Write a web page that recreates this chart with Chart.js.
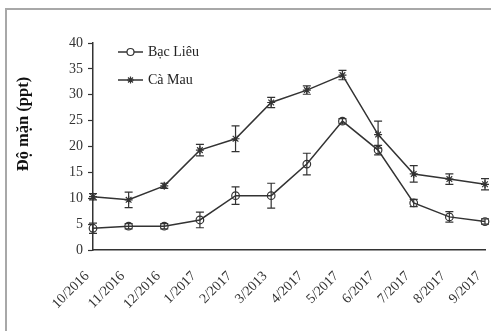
<!DOCTYPE html>
<html>
<head>
<meta charset="utf-8">
<script src="https://cdn.jsdelivr.net/npm/chart.js@4.4.0/dist/chart.umd.min.js"></script>
<style>
html,body{margin:0;padding:0;background:#fff;}
#wrap{position:relative;width:491px;height:331px;}
</style>
</head>
<body>
<div id="wrap"><canvas id="c" width="491" height="331"></canvas></div>
<script>
const categories = ['10/2016','11/2016','12/2016','1/2017','2/2017','3/2013','4/2017','5/2017','6/2017','7/2017','8/2017','9/2017'];
const bacLieu    = [4.2, 4.6, 4.6, 5.8, 10.5, 10.5, 16.6, 24.9, 19.3, 9.1, 6.4, 5.5];
const bacLieuErr = [1.0, 0.5, 0.5, 1.5, 1.7, 2.4, 2.1, 0.5, 0.9, 0.7, 1.0, 0.5];
const caMau      = [10.3, 9.7, 12.4, 19.3, 21.5, 28.5, 30.9, 33.8, 22.3, 14.7, 13.7, 12.7];
const caMauErr   = [0.6, 1.5, 0.5, 1.1, 2.5, 1.0, 0.8, 0.9, 2.6, 1.6, 1.0, 1.1];
const yTicks     = [0, 5, 10, 15, 20, 25, 30, 35, 40];
const seriesNames = ['Bạc Liêu', 'Cà Mau'];
const errs = [bacLieuErr, caMauErr];

const INK = '#333';
const FONT = '"Liberation Serif", "Times New Roman", serif';

const framePlugin = {
  id: 'frame',
  beforeDraw(chart) {
    const ctx = chart.ctx;
    ctx.save();
    ctx.fillStyle = '#fff';
    ctx.fillRect(0, 0, chart.width, chart.height);
    ctx.strokeStyle = '#a8a8a8';
    ctx.lineWidth = 2;
    ctx.beginPath();
    ctx.moveTo(6, 340);
    ctx.lineTo(6, 9);
    ctx.lineTo(500, 9);
    ctx.stroke();
    // y-axis title
    ctx.translate(24, 124);
    ctx.rotate(-Math.PI / 2);
    ctx.fillStyle = '#111';
    ctx.font = 'bold 16.5px ' + FONT;
    ctx.textAlign = 'center';
    ctx.textBaseline = 'middle';
    ctx.fillText('Độ mặn (ppt)', 0, 0);
    ctx.restore();
  }
};

const errorBarPlugin = {
  id: 'errbars',
  afterDatasetsDraw(chart) {
    const ctx = chart.ctx;
    const y = chart.scales.y;
    ctx.save();
    ctx.strokeStyle = INK;
    ctx.lineWidth = 1.2;
    chart.data.datasets.forEach((ds, di) => {
      const meta = chart.getDatasetMeta(di);
      meta.data.forEach((pt, i) => {
        const v = ds.data[i], e = errs[di][i];
        const x = pt.x;
        const yt = y.getPixelForValue(v + e), yb = y.getPixelForValue(v - e);
        ctx.beginPath();
        ctx.moveTo(x, yt); ctx.lineTo(x, yb);
        ctx.moveTo(x - 4, yt); ctx.lineTo(x + 4, yt);
        ctx.moveTo(x - 4, yb); ctx.lineTo(x + 4, yb);
        ctx.stroke();
      });
    });
    ctx.restore();
  }
};

const legendPlugin = {
  id: 'manualLegend',
  afterDraw(chart) {
    const ctx = chart.ctx;
    const rows = [{y: 52, style: 'circle'}, {y: 80, style: 'star'}];
    ctx.save();
    rows.forEach((r, i) => {
      ctx.strokeStyle = INK;
      ctx.lineWidth = 1.5;
      ctx.beginPath();
      ctx.moveTo(118, r.y); ctx.lineTo(143, r.y);
      ctx.stroke();
      ctx.fillStyle = '#fff';
      ctx.lineWidth = 1.2;
      Chart.helpers.drawPoint(ctx, {pointStyle: r.style, radius: 3.5, borderWidth: 1.2}, 130.5, r.y);
      ctx.fillStyle = '#222';
      ctx.font = '14px ' + FONT;
      ctx.textAlign = 'left';
      ctx.textBaseline = 'middle';
      ctx.fillText(seriesNames[i], 148, r.y);
    });
    ctx.restore();
  }
};

new Chart(document.getElementById('c'), {
  type: 'line',
  data: {
    labels: categories,
    datasets: [
      {label: seriesNames[0], data: bacLieu, borderColor: INK, borderWidth: 1.5, pointStyle: 'circle', pointRadius: 3.8, pointBackgroundColor: 'rgba(255,255,255,0)', pointBorderColor: INK, pointBorderWidth: 1.2, tension: 0},
      {label: seriesNames[1], data: caMau, borderColor: INK, borderWidth: 1.5, pointStyle: 'star', pointRadius: 4, pointBackgroundColor: '#fff', pointBorderColor: INK, pointBorderWidth: 1.2, tension: 0}
    ]
  },
  options: {
    responsive: false,
    animation: false,
    devicePixelRatio: 1,
    layout: {padding: {left: 0, top: 43, right: 6, bottom: 0}},
    plugins: {legend: {display: false}, tooltip: {enabled: false}},
    scales: {
      x: {
        offset: false,
        grid: {display: false, drawOnChartArea: false, drawTicks: true, tickLength: 5, tickColor: INK, tickWidth: 1.2},
        border: {display: true, color: INK, width: 1.5},
        ticks: {color: '#333', font: {family: FONT, size: 14}, minRotation: 45, maxRotation: 45, autoSkip: false, padding: 13, labelOffset: -6},
        afterFit(s) { s.height = 81; s.paddingLeft = 0; s.paddingRight = 0; }
      },
      y: {
        min: 0, max: 40,
        afterBuildTicks(s) { s.ticks = yTicks.map(v => ({value: v})); },
        grid: {display: true, drawOnChartArea: false, drawTicks: true, tickLength: 5, tickColor: INK, tickWidth: 1.2},
        border: {display: true, color: INK, width: 1.5},
        ticks: {color: '#333', font: {family: FONT, size: 14}, padding: 5},
        afterFit(s) { s.width = 93; s.paddingTop = 0; s.paddingBottom = 0; }
      }
    }
  },
  plugins: [framePlugin, errorBarPlugin, legendPlugin]
});
</script>
</body>
</html>
